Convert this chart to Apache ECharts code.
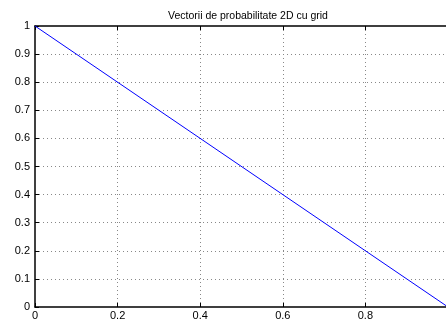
<!DOCTYPE html>
<html>
<head>
<meta charset="utf-8">
<script src="https://cdn.jsdelivr.net/npm/echarts@6/dist/echarts.min.js"></script>
<style>
  html, body { margin: 0; padding: 0; background: #fff; overflow: hidden; width: 446px; height: 323px; }
  /* the plot box runs slightly past the right edge of the window */
  #chart { width: 449px; height: 323px; }
</style>
</head>
<body>
<div id="chart"></div>
<script>
// Probability vectors in 2D: p1 + p2 = 1
const p1Values = [0, 1];
const p2Values = [1, 0];
const titleText = 'Vectorii de probabilitate 2D cu grid';

const FONT = 'Liberation Sans, Arial, Helvetica, sans-serif';

const chart = echarts.init(document.getElementById('chart'));

const labelStyle = { color: '#000', fontFamily: FONT, fontSize: 11 };
const axisLine = { show: true, lineStyle: { color: '#000', width: 1.5 } };
const axisTick = { show: true, inside: true, length: 4, lineStyle: { color: '#000' } };
const fmt = v => String(+v.toFixed(1));
const gridLine = () => ({
  show: true, showMinLine: false, showMaxLine: false,
  lineStyle: { color: '#888', type: [1, 3], width: 1 }
});

chart.setOption({
  animation: false,
  title: {
    text: titleText,
    left: 243, top: 6, textAlign: 'center',
    textStyle: { color: '#000', fontFamily: FONT, fontSize: 10.5, fontWeight: 'normal' }
  },
  grid: {
    left: 35, right: 1, top: 26, bottom: 16,
    outerBoundsMode: 'none',
    show: false
  },
  xAxis: [
    {
      type: 'value', min: 0, max: 1, interval: 0.2, position: 'bottom',
      axisLine, axisTick,
      axisLabel: Object.assign({ margin: 3, formatter: fmt, showMaxLabel: false }, labelStyle),
      splitLine: gridLine()
    },
    {
      type: 'value', min: 0, max: 1, interval: 0.2, position: 'top',
      axisLine, axisTick,
      axisLabel: { show: false },
      splitLine: { show: false }
    }
  ],
  yAxis: {
    type: 'value', min: 0, max: 1, interval: 0.1,
    axisLine, axisTick,
    axisLabel: Object.assign({ margin: 5, formatter: fmt }, labelStyle),
    splitLine: gridLine()
  },
  series: [{
    type: 'line',
    data: p1Values.map((x, i) => [x, p2Values[i]]),
    showSymbol: false,
    lineStyle: { color: '#0000ff', width: 1 },
    z: 5
  }]
});
</script>
</body>
</html>
